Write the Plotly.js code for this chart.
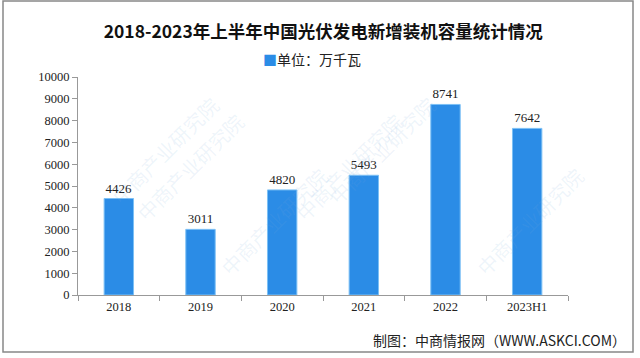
<!DOCTYPE html>
<html>
<head>
<meta charset="utf-8">
<script src="https://cdn.plot.ly/plotly-3.0.1.min.js"></script>
<style>html,body{margin:0;padding:0;background:#fff;}#c{width:640px;height:358px;}</style>
</head>
<body>
<div id="c"></div>
<script>
const categories = ["2018", "2019", "2020", "2021", "2022", "2023H1"];
const values = [4426, 3011, 4820, 5493, 8741, 7642];
const seriesName = "单位：万千瓦";
const titleText = "2018-2023年上半年中国光伏发电新增装机容量统计情况";
const sourceText = "制图：中商情报网（WWW.ASKCI.COM）";
const watermark = "中商产业研究院";
const barColor = "#2b8ce6";

const trace = {
  type: "bar",
  x: categories,
  y: values,
  name: seriesName,
  width: 0.36,
  marker: {color: barColor, line: {color: "#7cc0f5", width: 1}},
  text: values.map(String),
  textposition: "outside",
  cliponaxis: false,
  textfont: {family: "Liberation Serif, DejaVu Serif, serif", size: 13, color: "#222"}
};

const wm = [];
const wmPos = [[0.05,0.95],[0.62,0.95],[0.1,0.3],[0.68,0.3],[0.4,0.05],[1.05,0.05]];
wmPos.forEach(p => wm.push({
  xref: "paper", yref: "paper", x: p[0], y: p[1], text: watermark, showarrow: false,
  textangle: -45, font: {family: "Noto Sans CJK SC", size: 20, color: "rgba(120,170,220,0.13)"}
}));

const layout = {
  width: 640, height: 358,
  margin: {l: 78, r: 72, t: 77, b: 63},
  paper_bgcolor: "#ffffff", plot_bgcolor: "#ffffff",
  title: {text: "<b>" + titleText + "</b>", x: 0.505, xanchor: "center", y: 0.91, yanchor: "middle",
    font: {family: "Noto Sans CJK SC", size: 17.5, color: "#111"}},
  showlegend: false,
  xaxis: {
    type: "category", showline: true, linecolor: "#999", linewidth: 1,
    ticks: "outside", tickson: "boundaries", ticklen: 5, tickcolor: "#999",
    tickfont: {family: "Liberation Serif, DejaVu Serif, serif", size: 12.5, color: "#222"},
    showgrid: false, zeroline: false
  },
  yaxis: {
    range: [0, 10000], dtick: 1000, tick0: 0, tickformat: "d", showline: true, linecolor: "#999", linewidth: 1,
    ticks: "outside", ticklen: 5, tickcolor: "#999", showgrid: false, zeroline: false,
    tickfont: {family: "Liberation Serif, DejaVu Serif, serif", size: 12.5, color: "#222"}
  },
  annotations: wm.concat([{
    xref: "paper", yref: "paper", x: (312-78)/490, y: (295-59)/218, xanchor: "center", yanchor: "middle",
    text: '<span style="color:' + barColor + '">■</span>' + seriesName, showarrow: false,
    font: {family: "Noto Sans CJK SC", size: 14, color: "#222"}
  }, {
    xref: "paper", yref: "paper", x: (628-78)/490, y: -(340-295)/218, xanchor: "right", yanchor: "middle",
    text: sourceText, showarrow: false,
    font: {family: "Noto Sans CJK SC", size: 14, color: "#222"}
  }]),
  shapes: [{
    type: "rect", xref: "paper", yref: "paper",
    x0: -(78-3)/490, x1: (633-78)/490, y0: -(352-295)/218, y1: (295-1)/218,
    line: {color: "#888", width: 1.5}, fillcolor: "rgba(0,0,0,0)"
  }]
};

Plotly.newPlot("c", [trace], layout, {displayModeBar: false, staticPlot: true});
</script>
</body>
</html>
